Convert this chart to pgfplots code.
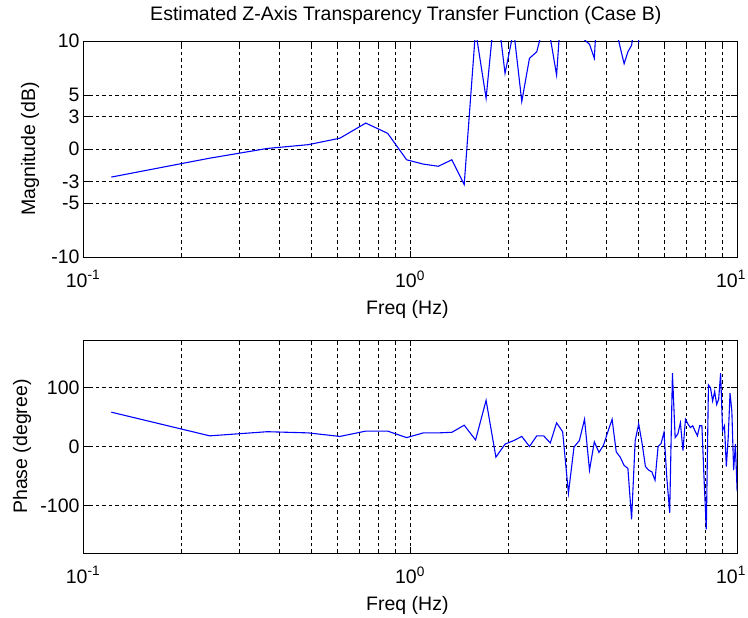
\documentclass[border=0pt]{standalone}
\usepackage{pgfplots}
\pgfplotsset{compat=1.18}
\usepackage{fontspec}
\setmainfont{Liberation Sans}

\begin{document}
\begin{tikzpicture}

\begin{semilogxaxis}[
  xmin=0.1, xmax=10,
  scale only axis, width=654pt, height=216pt,
  at={(83pt,361pt)}, anchor=south west,
  xtick={0.1,1,10},
  xticklabels={10\textsuperscript{-1},10\textsuperscript{0},\hspace*{-12pt}10\textsuperscript{1}},
  xticklabel style={yshift=-10pt},
  xmajorgrids=true, xminorgrids=true, ymajorgrids=true,
  major grid style={black, dash pattern=on 3.5pt off 3pt, line width=0.8pt},
  minor grid style={black, dash pattern=on 3.5pt off 3pt, line width=0.8pt},
  tick align=inside,
  major tick length=6pt, minor tick length=4pt,
  axis line style={line width=0.9pt},
  tick style={black, line width=0.8pt},
  tick label style={font=\fontsize{19.5}{22}\selectfont},
  label style={font=\fontsize{19.5}{22}\selectfont},
  title style={font=\fontsize{19.5}{22}\selectfont, at={(axis description cs:0.4936,1.0694)}, anchor=base},
  ymin=-10, ymax=10,
  ytick={-10,-5,-3,0,3,5,10},
  yticklabels={-10,-5,-3,0,3,5,10},
  title={Estimated Z-Axis Transparency Transfer Function (Case B)},
  xlabel={Freq (Hz)},
  xlabel style={at={(axis description cs:0.496,-0.264)}, anchor=base},
  ylabel={Magnitude (dB)},
  ylabel style={at={(axis description cs:-0.081,0.5)}, anchor=center},
]
\addplot[blue, line width=1.1pt, mark=none] coordinates {
(0.1221,-2.6) (0.2441,-0.85) (0.3662,0.05) (0.4883,0.4) (0.6104,1.0)
(0.7324,2.4) (0.8545,1.45) (0.9766,-1.0) (1.0986,-1.4) (1.2207,-1.6)
(1.3428,-1.0) (1.4648,-3.3) (1.5869,11) (1.7090,4.7) (1.8311,14)
(1.9531,7.0) (2.0752,11) (2.1973,4.4) (2.3193,8.4) (2.4414,9.0)
(2.5635,11.5) (2.6855,10.3) (2.8076,6.85) (2.9297,15) (3.0518,16)
(3.1738,14) (3.2959,12) (3.4180,10.1) (3.5400,9.7) (3.6621,8.4)
(3.7842,16) (3.9063,18) (4.0283,15) (4.1504,13) (4.2725,11)
(4.3945,9.4) (4.5166,7.9) (4.6387,9.0) (4.7607,9.6) (4.8828,12)
(5.0049,10.05) (5.1270,14) (5.2490,16) (5.3711,13) (5.4932,17)
(5.6152,15) (5.7373,19) (5.8594,14) (5.9814,16) (6.1035,20)
(6.2256,15) (6.3477,17) (6.4697,13) (6.5918,18) (6.7139,16)
(6.8359,14) (6.9580,19) (7.0801,15) (7.2021,17) (7.3242,14)
(7.4463,18) (7.5684,16) (7.6904,20) (7.8125,15) (7.9346,17)
(8.0566,13) (8.1787,18) (8.3008,16) (8.4229,19) (8.5449,14)
(8.6670,17) (8.7891,15) (8.9111,20) (9.0332,16) (9.1553,18)
(9.2773,14) (9.3994,17) (9.5215,15) (9.6436,19) (9.7656,16)
(9.8877,18) (10.0098,15)
};
\end{semilogxaxis}

\begin{semilogxaxis}[
  xmin=0.1, xmax=10,
  scale only axis, width=654pt, height=213pt,
  at={(83pt,65pt)}, anchor=south west,
  xtick={0.1,1,10},
  xticklabels={10\textsuperscript{-1},10\textsuperscript{0},\hspace*{-12pt}10\textsuperscript{1}},
  xticklabel style={yshift=-10pt},
  xmajorgrids=true, xminorgrids=true, ymajorgrids=true,
  major grid style={black, dash pattern=on 3.5pt off 3pt, line width=0.8pt},
  minor grid style={black, dash pattern=on 3.5pt off 3pt, line width=0.8pt},
  tick align=inside,
  major tick length=6pt, minor tick length=4pt,
  axis line style={line width=0.9pt},
  tick style={black, line width=0.8pt},
  tick label style={font=\fontsize{19.5}{22}\selectfont},
  label style={font=\fontsize{19.5}{22}\selectfont},
  ymin=-180, ymax=180,
  ytick={-100,0,100},
  yticklabels={-100,0,100},
  xlabel={Freq (Hz)},
  xlabel style={at={(axis description cs:0.496,-0.268)}, anchor=base},
  ylabel={Phase (degree)},
  ylabel style={at={(axis description cs:-0.093,0.5)}, anchor=center},
]
\addplot[blue, line width=1.1pt, mark=none] coordinates {
(0.1221,58) (0.2441,18) (0.3662,25) (0.4883,23) (0.6104,17)
(0.7324,26) (0.8545,26) (0.9766,15) (1.0986,23) (1.2207,23)
(1.3428,24) (1.4648,36) (1.5869,11) (1.7090,78) (1.8311,-18)
(1.9531,4) (2.0752,10) (2.1973,17) (2.3193,0) (2.4414,18)
(2.5635,18) (2.6855,6) (2.8076,40) (2.9297,25) (3.0518,-79)
(3.1738,-1) (3.2959,10) (3.4180,46) (3.5400,-40) (3.6621,8)
(3.7842,-10) (3.9063,2) (4.0283,25) (4.1504,46) (4.2725,-9)
(4.3945,-18) (4.5166,-32) (4.6387,-37) (4.7607,-123) (4.8828,10)
(5.0049,38) (5.1270,5) (5.2490,-34) (5.3711,-40) (5.4932,-43)
(5.6152,-57) (5.7373,0) (5.8594,5) (5.9814,24) (6.1035,-54)
(6.2256,-112) (6.3477,124) (6.4697,15) (6.5918,21) (6.7139,40)
(6.8359,-7) (6.9580,46) (7.0801,38) (7.2021,32) (7.3242,35)
(7.4463,26) (7.5684,18) (7.6904,35) (7.8125,35) (7.9346,-57)
(8.0566,-140) (8.1787,104) (8.3008,99) (8.4229,77) (8.5449,93)
(8.6670,71) (8.7891,80) (8.9111,124) (9.0332,27) (9.1553,35)
(9.2773,-34) (9.3994,15) (9.5215,90) (9.6436,60) (9.7656,-40)
(9.8877,4) (10.0098,-76)
};
\end{semilogxaxis}
\pgfresetboundingbox
\useasboundingbox (0,0) rectangle (748pt,618pt);
\end{tikzpicture}
\end{document}
